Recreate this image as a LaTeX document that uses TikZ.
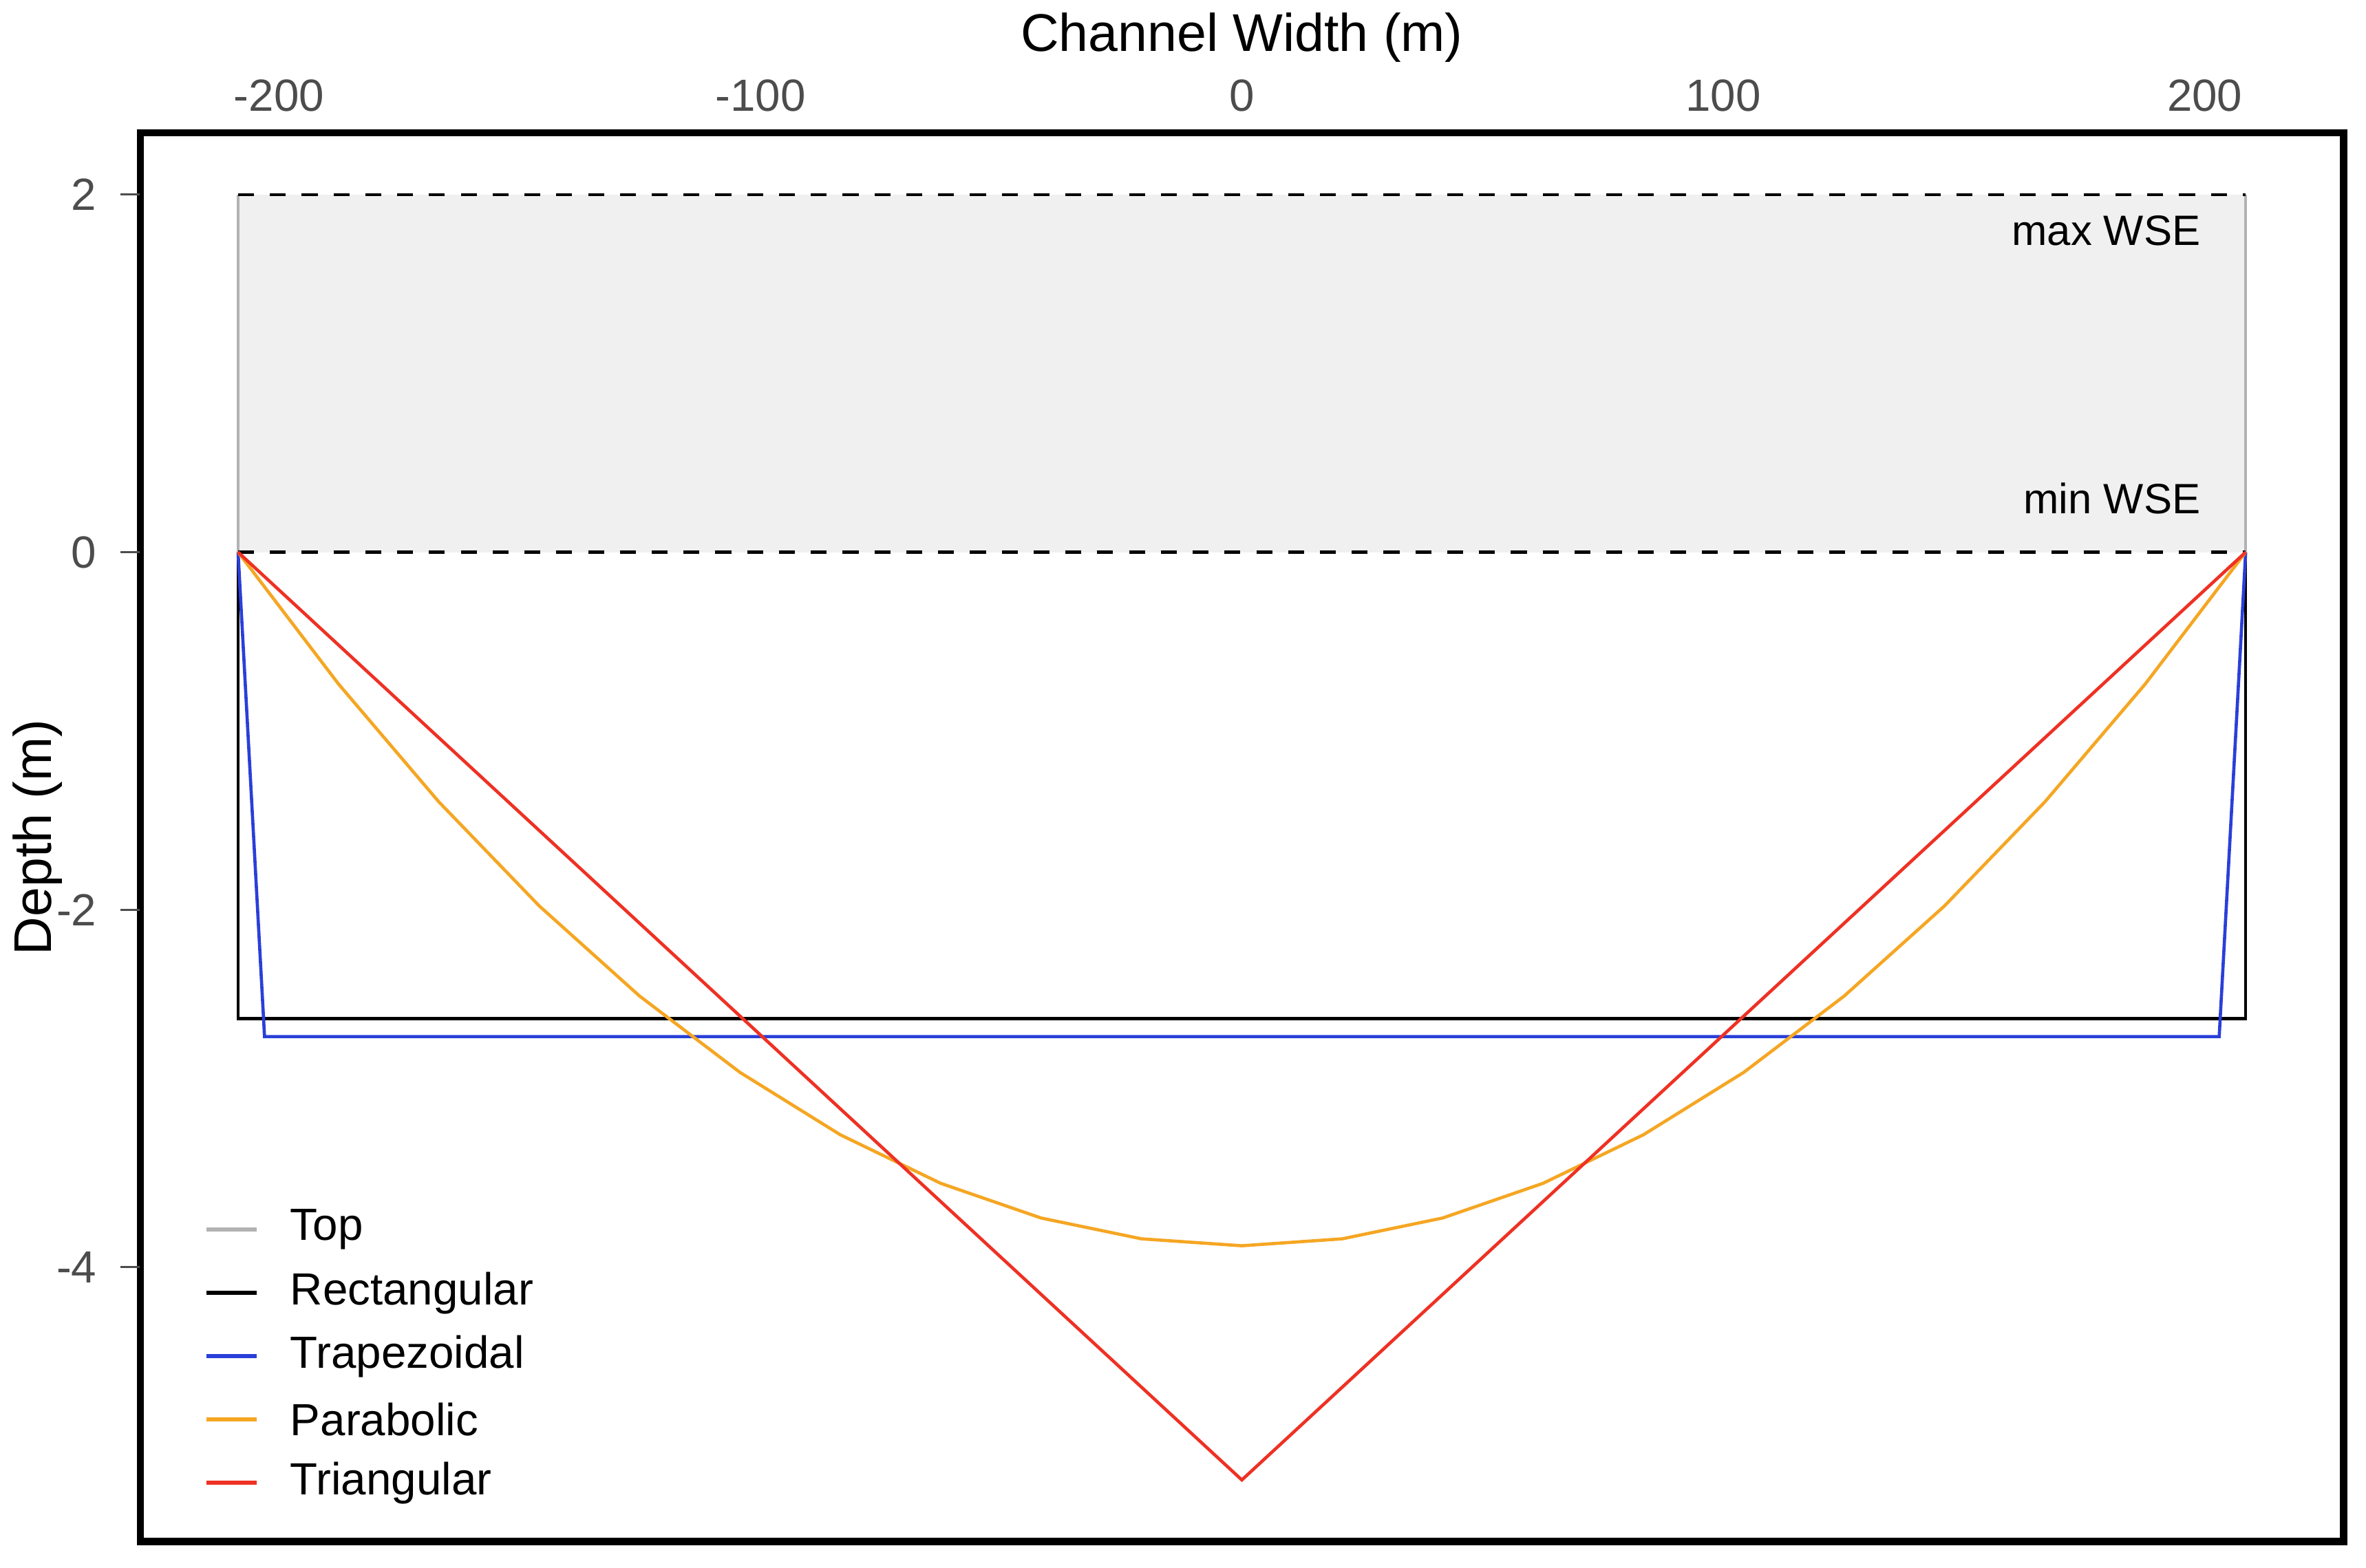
\documentclass[tikz,border=0pt]{standalone}
\usepackage{fontspec}
\setmainfont{Liberation Sans}
\definecolor{trap}{HTML}{2A3FD8}
\definecolor{para}{HTML}{F5A623}
\definecolor{tri}{HTML}{EE3124}
\begin{document}
\begin{tikzpicture}[
  tick/.style={text=black!70,font=\fontsize{8.5pt}{10pt}\selectfont},
  lab/.style={font=\fontsize{10pt}{12pt}\selectfont},
  leg/.style={font=\fontsize{8.5pt}{10pt}\selectfont,anchor=west},
  ann/.style={font=\fontsize{8pt}{10pt}\selectfont}]
\useasboundingbox (0,0) rectangle (15.68,-10.39);
\draw[line width=1.4pt] (0.93,-0.88) rectangle (15.53,-10.22);
\begin{scope}[shift={(8.23,-3.66)},x=0.0319cm,y=1.185cm]
  \fill[black!6] (-208.5,0) rectangle (208.5,2);
  \draw[black!30,line width=0.6pt] (-208.5,0) -- (-208.5,2) (208.5,0) -- (208.5,2);
  \draw[dashed,line width=0.6pt] (-208.5,2) -- (208.5,2) (-208.5,0) -- (208.5,0);
  \node[ann,anchor=east] (mx) at (203,1.8) {max WSE};
  \node[ann,anchor=east] (mn) at (203,0.3) {min WSE};
  \draw[black,line width=0.6pt] (-208.5,0) -- (-208.5,-2.61) -- (208.5,-2.61) -- (208.5,0);
  \draw[trap,line width=0.6pt] (-208.5,0) -- (-203,-2.71) -- (203,-2.71) -- (208.5,0);
  \draw[para,line width=0.6pt] plot[domain=-208.5:208.5,samples=21] (\x,{-3.88*(1-(\x/208.5)^2)});
  \draw[tri,line width=0.6pt] (-208.5,0) -- (0,-5.19) -- (208.5,0);
  \foreach \v in {-200,-100,0,100,200} {
    \node[tick,anchor=south] (tx\v) at (\v,2.36) {\v};
  }
  \foreach \v/\t in {2/2,0/0,-2/-2,-4/-4} {
    \draw[black!70] (-229,\v) -- (-233,\v);
    \node[tick,anchor=east] (ty\t) at (-234,\v) {\t};
  }
\end{scope}
\node[lab] (xt) at (8.23,-0.25) {Channel Width (m)};
\node[lab,rotate=90] (yt) at (0.25,-5.55) {Depth (m)};
\foreach \c/\n/\t/\y in {black!30/a/Top/8.15,black/b/Rectangular/8.57,trap/c/Trapezoidal/8.99,para/d/Parabolic/9.41,tri/e/Triangular/9.83} {
  \coordinate (l\n1) at (1.37,-\y);
  \coordinate (l\n2) at (1.70,-\y);
  \draw[\c,line width=0.8pt] (l\n1) -- (l\n2);
  \node[leg] (t\n) at (1.80,-\y) {\t};
}
\end{tikzpicture}
\end{document}
